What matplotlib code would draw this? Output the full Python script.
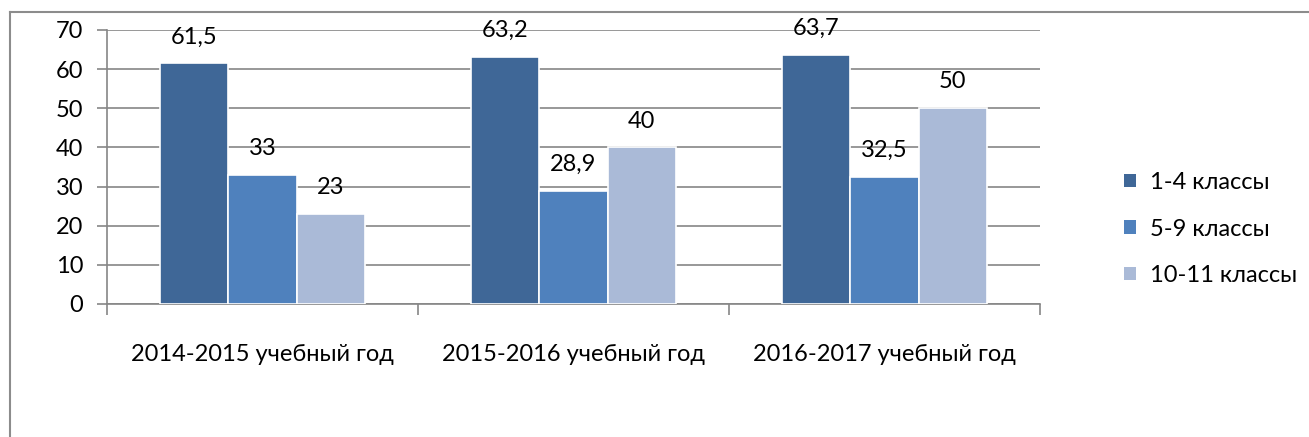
import matplotlib
matplotlib.use("Agg")
import matplotlib.pyplot as plt
from matplotlib.patches import Patch
from matplotlib.lines import Line2D
import numpy as np

categories = ["2014-2015 учебный год", "2015-2016 учебный год", "2016-2017 учебный год"]
series_names = ["1-4 классы", "5-9 классы", "10-11 классы"]
s1 = [61.5, 63.2, 63.7]
s2 = [33, 28.9, 32.5]
s3 = [23, 40, 50]
labels1 = ["61,5", "63,2", "63,7"]
labels2 = ["33", "28,9", "32,5"]
labels3 = ["23", "40", "50"]
yticks = [0, 10, 20, 30, 40, 50, 60, 70]

colors = ["#3F6797", "#4F81BD", "#AABAD7"]

plt.rcParams['font.family'] = ['Lato', 'DejaVu Sans']
FS = 17

fig = plt.figure(figsize=(13.09, 4.37), dpi=100)
ax = fig.add_axes([107/1309, 1-304/437, (1040-107)/1309, (304-30)/437])

x = np.arange(len(categories))
bw = 0.22
grid_c = "#868686"
for i, (vals, labs) in enumerate(zip([s1, s2, s3], [labels1, labels2, labels3])):
    pos = x + (i - 1) * bw
    ax.bar(pos, vals, width=bw, color=colors[i], edgecolor="white", linewidth=1.2, zorder=3)
    for p, v, l in zip(pos, vals, labs):
        ax.annotate(l, (p, v), xytext=(0, 19), textcoords="offset points",
                    ha="center", va="center", fontsize=FS, color="black", zorder=4)

ax.set_xlim(-0.5, 2.5)
ax.set_ylim(0, 70)
ax.set_yticks(yticks)
ax.set_yticklabels([str(t) for t in yticks], fontsize=FS)
ax.yaxis.grid(True, color=grid_c, linewidth=1.2, zorder=0)
ax.set_axisbelow(True)
ax.tick_params(axis='y', length=7, color=grid_c, width=1.2, pad=10)

ax.set_xticks(x)
ax.set_xticklabels(categories, fontsize=FS)
ax.tick_params(axis='x', length=0, pad=29)
ax.set_xticks([-0.5, 0.5, 1.5, 2.5], minor=True)
ax.tick_params(axis='x', which='minor', length=8, color=grid_c, width=1.2)

for s in ["top", "right"]:
    ax.spines[s].set_visible(False)
for s in ["left", "bottom"]:
    ax.spines[s].set_color(grid_c)
    ax.spines[s].set_linewidth(1.2)

handles = [Patch(facecolor=c, edgecolor="none") for c in colors]
fig.legend(handles, series_names, loc="center left", bbox_to_anchor=(1124/1309, 1-229/437),
           frameon=False, fontsize=FS, handlelength=0.5, handleheight=0.5,
           handletextpad=0.6, labelspacing=1.08, borderpad=0, borderaxespad=0)

# outer frame (left and top)
fig.add_artist(Line2D([10/1309, 10/1309], [0, 1-12/437], transform=fig.transFigure, color="#8c8c8c", linewidth=1.5))
fig.add_artist(Line2D([10/1309, 1], [1-12/437, 1-12/437], transform=fig.transFigure, color="#8c8c8c", linewidth=1.5))

fig.savefig("out.png", dpi=100)
